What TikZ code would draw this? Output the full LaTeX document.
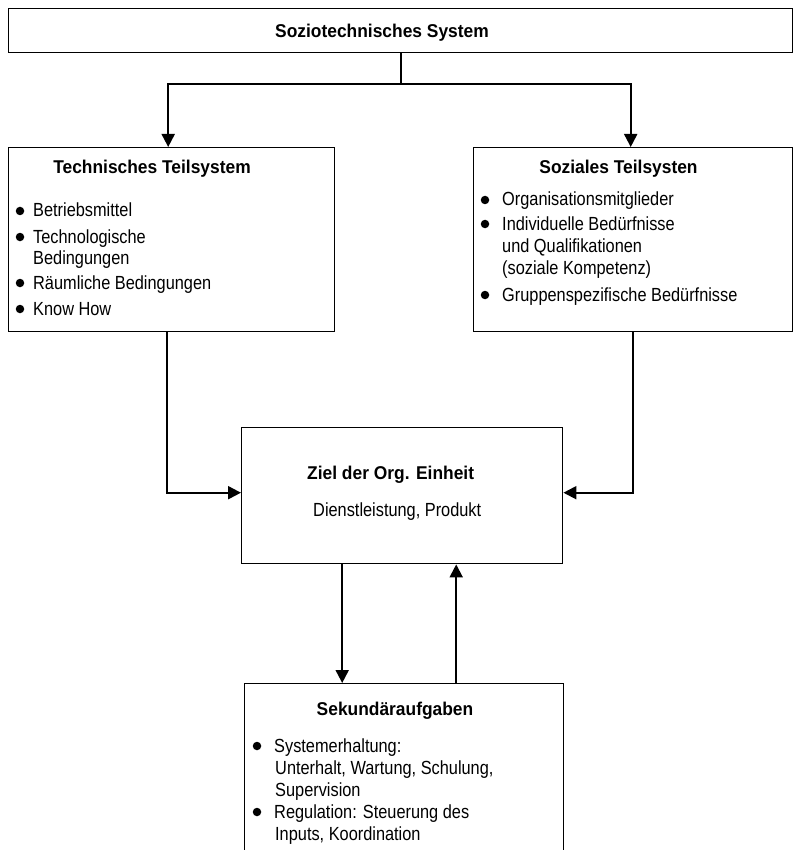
\documentclass[tikz,border=0pt]{standalone}
\usepackage{fontspec}
\setmainfont{Liberation Sans}
\newfontfamily\bodyfont{Liberation Sans}[FakeStretch=0.86]
\newfontfamily\titlefont{Liberation Sans}[FakeStretch=0.94]
\usetikzlibrary{arrows.meta}

\begin{document}
\begin{tikzpicture}[x=1pt,y=-1pt,
  box/.style={draw, line width=1.4pt, anchor=north west, inner sep=0pt},
  conn/.style={line width=2pt},
  arr/.style={conn, -{Triangle[length=13pt,width=13pt]}},
  ttl/.style={font=\fontsize{18.5}{22}\titlefont\bfseries, anchor=base, inner sep=0pt},
  txt/.style={font=\fontsize{19}{22}\bodyfont, anchor=base west, inner sep=0pt},
  dot/.style={circle, fill, inner sep=0pt, minimum size=8.5pt}]

\useasboundingbox (0,0) rectangle (799,850);
\clip (0,0) rectangle (799,850);

% boxes
\node[box, minimum width=784pt, minimum height=44pt]  (top)  at (8,8) {};
\node[box, minimum width=326pt, minimum height=184pt] (tech) at (8,147) {};
\node[box, minimum width=319pt, minimum height=184pt] (soz)  at (473,147) {};
\node[box, minimum width=321pt, minimum height=136pt] (ziel) at (241,427) {};
\node[box, minimum width=319pt, minimum height=230pt] (sek)  at (244,683) {};

% titles
\node[ttl] (ttop)  at (382,37.5) {Soziotechnisches System};
\node[ttl] (ttech) at (152,173.5) {Technisches Teilsystem};
\node[ttl] (tsoz)  at (618.5,173.5) {Soziales Teilsysten};
\node[ttl, anchor=base west] (tziel) at (307,479) {Ziel der Org. Einheit};
\node[ttl] (tsek)  at (395,715) {Sekundäraufgaben};

% technical subsystem
\node[dot] (b1) at (20,211) {};
\node[txt] (l1) at (33,217) {Betriebsmittel};
\node[dot] (b2) at (20,237) {};
\node[txt] (l2) at (33,243) {Technologische};
\node[txt] (l3) at (33,264) {Bedingungen};
\node[dot] (b3) at (20,283) {};
\node[txt] (l4) at (33,289) {Räumliche Bedingungen};
\node[dot] (b4) at (20,309) {};
\node[txt] (l5) at (33,315) {Know How};

% social subsystem
\node[dot] (s1) at (485,200) {};
\node[txt] (r1) at (502,206) {Organisationsmitglieder};
\node[dot] (s2) at (485,224) {};
\node[txt] (r2) at (502,230) {Individuelle Bedürfnisse};
\node[txt] (r3) at (502,252) {und Qualifikationen};
\node[txt] (r4) at (502,274) {(soziale Kompetenz)};
\node[dot] (s3) at (485,295) {};
\node[txt] (r5) at (502,301) {Gruppenspezifische Bedürfnisse};

% goal
\node[txt] (z1) at (313,516) {Dienstleistung, Produkt};

% secondary tasks
\node[dot] (k1) at (257,746) {};
\node[txt] (m1) at (274,752) {Systemerhaltung:};
\node[txt] (m2) at (275,774) {Unterhalt, Wartung, Schulung,};
\node[txt] (m3) at (275,796) {Supervision};
\node[dot] (k2) at (257,812) {};
\node[txt] (m4) at (274,818) {Regulation: Steuerung des};
\node[txt] (m5) at (275,840) {Inputs, Koordination};

% connectors
\coordinate (split) at (top.south |- 0,84);
\draw[conn] (top.south) -- (split);
\draw[arr] (split) -| ([xshift=-3.5pt]tech.north);
\draw[arr] (split) -| ([xshift=-2.5pt]soz.north);
\draw[arr] ([xshift=-4.5pt]tech.south) |- ([yshift=3pt]ziel.west);
\draw[arr] (soz.south) |- ([yshift=3pt]ziel.east);
\draw[arr] ([xshift=-60pt]ziel.south) -- ([xshift=-60pt]ziel.south |- sek.north);
\draw[arr] ([xshift=54pt]ziel.south |- sek.north) -- ([xshift=54pt]ziel.south);
\end{tikzpicture}
\end{document}
